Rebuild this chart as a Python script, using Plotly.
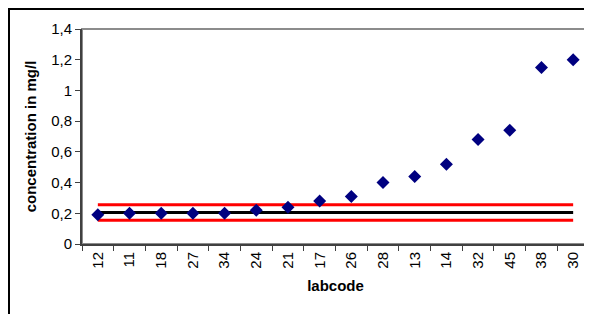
import plotly.graph_objects as go

labcodes = ["12", "11", "18", "27", "34", "24", "21", "17", "26", "28", "13", "14", "32", "45", "38", "30"]
concentration = [0.19, 0.20, 0.20, 0.20, 0.20, 0.22, 0.24, 0.28, 0.31, 0.40, 0.44, 0.52, 0.68, 0.74, 1.15, 1.20]
mean_value = 0.205
upper_limit = 0.255
lower_limit = 0.155

# the page body has an 8px default margin; figure is sized to fill the rest of the window
W, H = 584, 306
L, R, T, B = 74, 3, 21, 70
pw = W - L - R
ph = H - T - B

fig = go.Figure()
n = len(labcodes)
fig.add_trace(go.Scatter(x=labcodes, y=[upper_limit] * n, mode="lines",
                         line=dict(color="#FF0000", width=3), hoverinfo="skip"))
fig.add_trace(go.Scatter(x=labcodes, y=[lower_limit] * n, mode="lines",
                         line=dict(color="#FF0000", width=3), hoverinfo="skip"))
fig.add_trace(go.Scatter(x=labcodes, y=[mean_value] * n, mode="lines",
                         line=dict(color="#000000", width=3), hoverinfo="skip"))
fig.add_trace(go.Scatter(x=labcodes, y=concentration, mode="markers",
                         marker=dict(symbol="diamond", size=10, color="#000080")))

fig.update_layout(
    width=W, height=H,
    margin=dict(l=L, r=R, t=T, b=B, autoexpand=False),
    paper_bgcolor="white", plot_bgcolor="white",
    showlegend=False,
    separators=",.",
    font=dict(family="Liberation Sans, Arial, sans-serif", size=15, color="#000000"),
    xaxis=dict(
        type="category", range=[-0.5, n - 0.5],
        tickangle=-90, tickson="boundaries",
        ticks="outside", ticklen=5, tickcolor="#404040",
        showline=True, linecolor="#404040", linewidth=2,
        showgrid=False, zeroline=False,
        tickfont=dict(size=15),
        title=dict(text="<b>labcode</b>", font=dict(size=15), standoff=13),
        automargin=False,
    ),
    yaxis=dict(
        range=[0, 1.4], dtick=0.2, tick0=0,
        ticks="outside", ticklen=5, tickcolor="#404040",
        showline=True, linecolor="#404040", linewidth=2,
        showgrid=False, zeroline=False,
        tickfont=dict(size=15),
        title=dict(text="<b>concentration in mg/l</b>", font=dict(size=15), standoff=11),
        automargin=False,
    ),
    shapes=[
        # plot area border (top/right gray)
        dict(type="rect", xref="paper", yref="paper", x0=0, y0=0, x1=1, y1=1,
             line=dict(color="#8c8c8c", width=2), layer="below"),
        # outer chart frame
        dict(type="rect", xref="paper", yref="paper",
             x0=(1 - L) / pw, x1=(W + 20 - L) / pw,
             y0=-(H + 20 - T - ph) / ph, y1=(T - 1 + ph) / ph,
             line=dict(color="#000000", width=2)),
    ],
)

fig.write_html("out.html")
